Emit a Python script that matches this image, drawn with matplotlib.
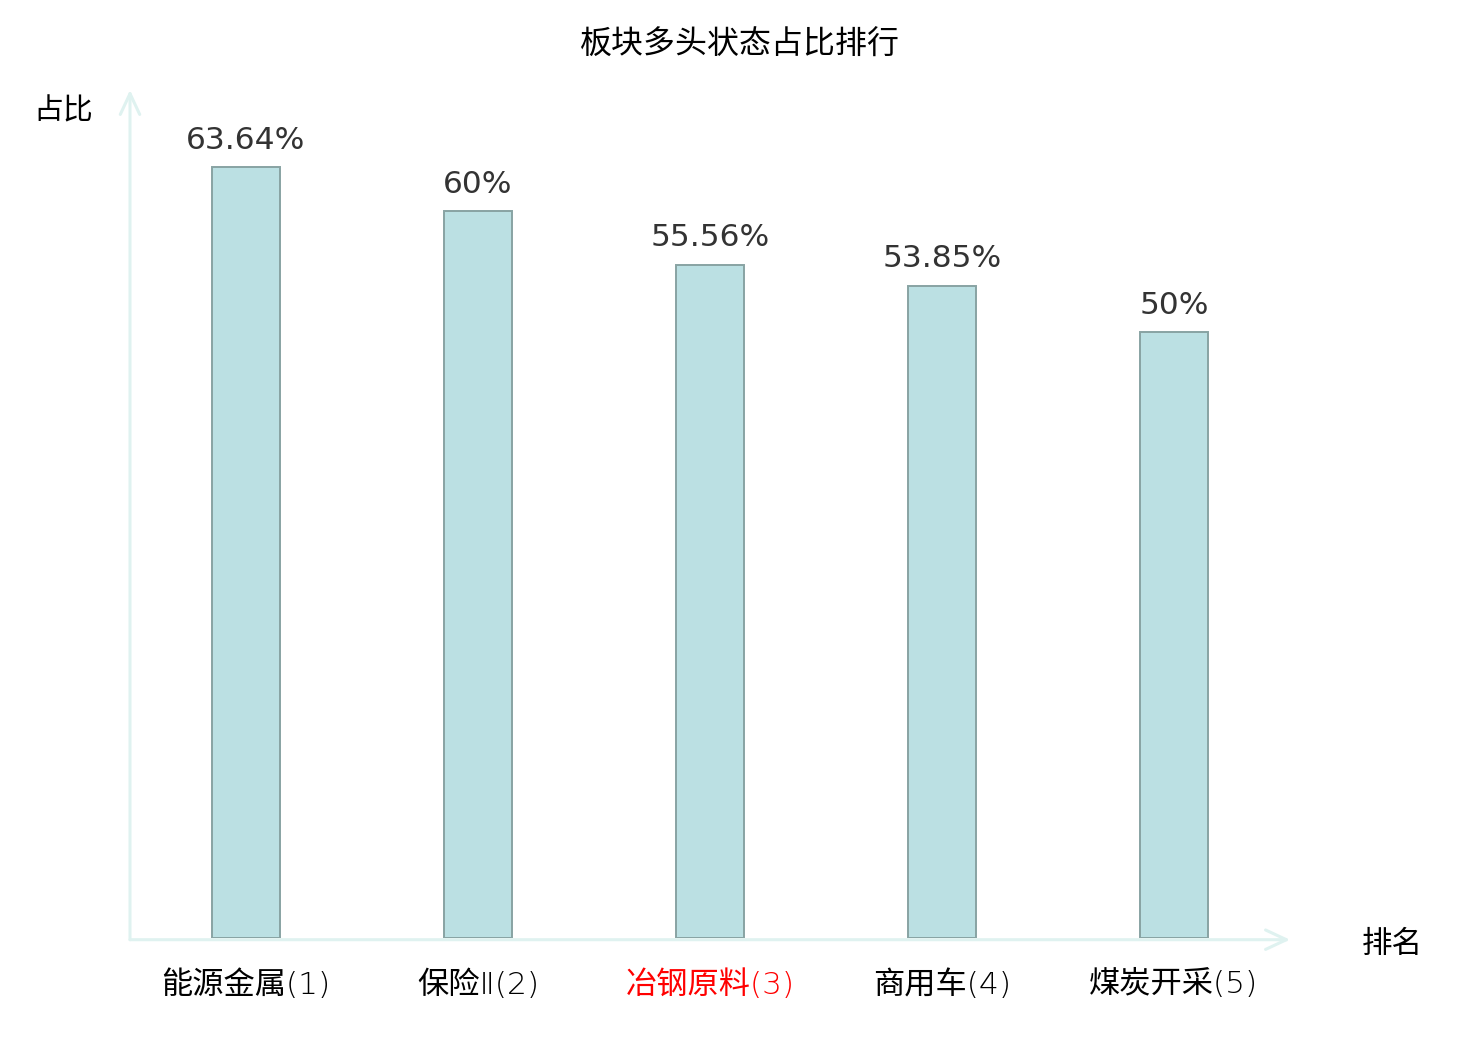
import matplotlib
matplotlib.use("Agg")
import matplotlib.pyplot as plt

plt.rcParams['font.family'] = ['Noto Sans CJK SC', 'DejaVu Sans']

title = "板块多头状态占比排行"
categories = ["能源金属(1)", "保险Ⅱ(2)", "冶钢原料(3)", "商用车(4)", "煤炭开采(5)"]
values = [63.64, 60, 55.56, 53.85, 50]
value_labels = ["63.64%", "60%", "55.56%", "53.85%", "50%"]
label_colors = ["#000000", "#000000", "#ff0000", "#000000", "#000000"]
y_name = "占比"
x_name = "排名"

W, H = 1480, 1040
fig = plt.figure(figsize=(W / 100, H / 100), dpi=100)
left, right, bottom, top = 130, 1290, 938, 90
ax = fig.add_axes([left / W, 1 - bottom / H, (right - left) / W, (bottom - top) / H])

x = list(range(len(categories)))
ax.bar(x, values, width=0.293, color="#bbe0e3", edgecolor="#88a3a3", linewidth=1.4, zorder=2)
ax.set_xlim(-0.5, len(categories) - 0.5)
ax.set_ylim(0, 70)

for xi, v, lab in zip(x, values, value_labels):
    ax.annotate(lab, (xi, v), xytext=(0, 9), textcoords="offset points",
                ha="center", va="bottom", fontsize=22.5, color="#333333",
                family=["DejaVu Sans", "Noto Sans CJK SC"])

for s in ax.spines.values():
    s.set_visible(False)
ax.set_yticks([])
ax.set_xticks(x)
ax.set_xticklabels(categories, fontsize=22.5, family=["DejaVu Sans", "Noto Sans CJK SC"],
                   fontweight=200)
ax.tick_params(axis="x", length=0, pad=22.5)
for t, c in zip(ax.get_xticklabels(), label_colors):
    t.set_color(c)

axis_color = "#dff2f0"
style = "->,head_length=1.5,head_width=0.7"
ax.annotate("", xy=(0, 1.0), xytext=(0, -0.002), xycoords="axes fraction",
            arrowprops=dict(arrowstyle=style, color=axis_color, lw=2.2,
                            shrinkA=0, shrinkB=0), annotation_clip=False)
ax.annotate("", xy=(1.0, -0.002), xytext=(0, -0.002), xycoords="axes fraction",
            arrowprops=dict(arrowstyle=style, color=axis_color, lw=2.2,
                            shrinkA=0, shrinkB=0), annotation_clip=False)

fig.text(63 / W, 1 - 111 / H, y_name, ha="center", va="center", fontsize=21.5, color="#000000")
fig.text(1392 / W, 1 - 944 / H, x_name, ha="center", va="center", fontsize=22, color="#000000")
fig.text(740 / W, 1 - 45 / H, title, ha="center", va="center", fontsize=23, color="#000000")

fig.savefig("out.png", dpi=100, facecolor="white")
